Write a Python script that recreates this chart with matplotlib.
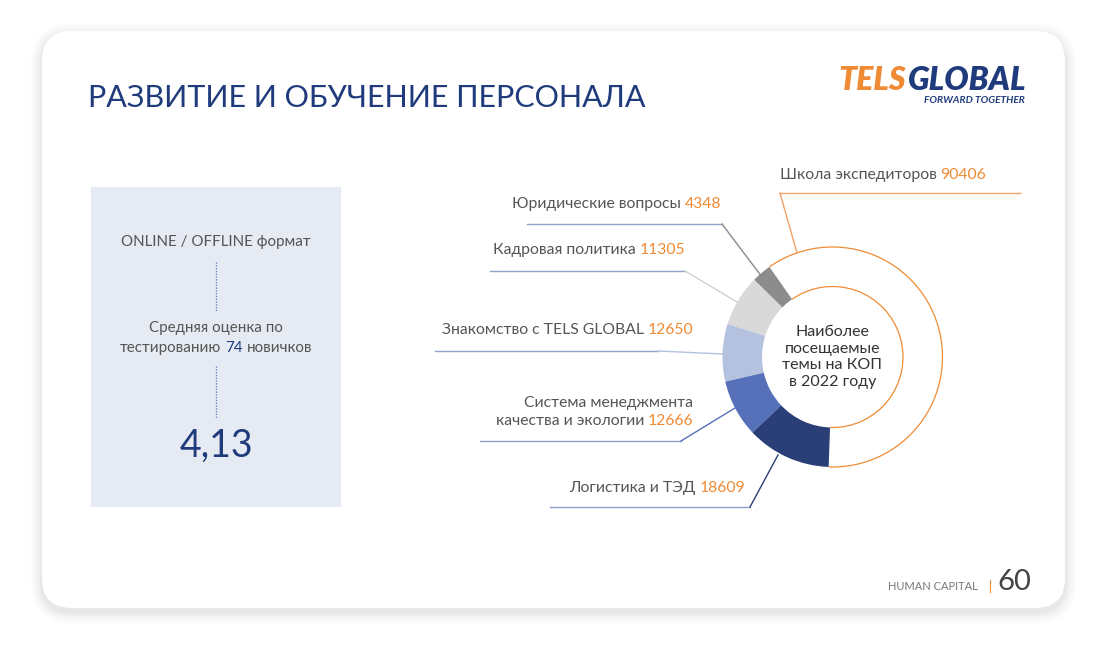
import matplotlib
matplotlib.use("Agg")
import matplotlib.pyplot as plt
from matplotlib.patches import FancyBboxPatch, Rectangle, Arc
from matplotlib.offsetbox import TextArea, HPacker, VPacker, AnnotationBbox

# Data
topics = ["Школа экспедиторов", "Юридические вопросы", "Кадровая политика",
          "Знакомство с TELS GLOBAL", "Система менеджмента\nкачества и экологии",
          "Логистика и ТЭД"]
visits = [90406, 4348, 11305, 12650, 12666, 18609]
wedge_colors = ["#ffffff", "#8c8c8c", "#d9d9d9", "#b4c2df", "#5671b9", "#2a3f78"]

test_score = "4,13"
newcomers = 74

ORANGE = "#ef8b35"
NAVY = "#1f3b7c"
GREY = "#555555"
FONT = "Lato"
H = 657

plt.rcParams['font.family'] = [FONT, 'DejaVu Sans']

fig = plt.figure(figsize=(11.03, 6.57), dpi=100)
fig.patch.set_facecolor("#ffffff")
ax = fig.add_axes([0, 0, 1, 1])


def Y(y):
    return H - y


# card with soft shadow
for i, a in enumerate([0.008, 0.010, 0.012, 0.015, 0.018, 0.022]):
    pad = 12 - 2 * i
    ax.add_patch(FancyBboxPatch((42, Y(608) - 4), 1023, 577, boxstyle=f"round,pad={pad},rounding_size={30 + pad}",
                                fc="#000000", ec="none", alpha=a, zorder=0))
ax.add_patch(FancyBboxPatch((42, Y(608)), 1023, 577, boxstyle="round,pad=0,rounding_size=30",
                            fc="#ffffff", ec="none", zorder=1))

# title
ax.text(88, Y(98), "РАЗВИТИЕ И ОБУЧЕНИЕ ПЕРСОНАЛА", fontsize=22, color=NAVY,
        va="center", ha="left", zorder=3)

# logo
logo = HPacker(children=[TextArea("TELS", textprops=dict(fontsize=23, color=ORANGE, fontweight="heavy", style="italic")),
                         TextArea("GLOBAL", textprops=dict(fontsize=23, color=NAVY, fontweight="heavy", style="italic"))],
               sep=2, align="baseline", pad=0)
ax.add_artist(AnnotationBbox(logo, (1027, Y(80)), box_alignment=(1, 0.5), frameon=False, pad=0, zorder=3))
ax.text(1025, Y(100.5), "FORWARD TOGETHER", fontsize=7.3, color=NAVY, fontweight="bold", style="italic",
        va="center", ha="right", zorder=3)

# left panel
ax.add_patch(Rectangle((91, Y(507)), 250, 320, fc="#e6eaf2", ec="none", zorder=2))
ax.text(216, Y(242), "ONLINE / OFFLINE формат", fontsize=10.9, color=GREY, ha="center", va="center", zorder=3)
ax.plot([216, 216], [Y(262), Y(312)], color="#6f86c4", lw=1, ls=(0, (1, 1)), zorder=3)
ax.text(216, Y(328), "Средняя оценка по", fontsize=10.9, color=GREY, ha="center", va="center", zorder=3)
line2 = HPacker(children=[TextArea("тестированию", textprops=dict(fontsize=10.9, color=GREY)),
                          TextArea(str(newcomers), textprops=dict(fontsize=10.9, color=NAVY)),
                          TextArea("новичков", textprops=dict(fontsize=10.9, color=GREY))],
                sep=3, align="baseline", pad=0)
ax.add_artist(AnnotationBbox(line2, (216, Y(348)), box_alignment=(0.5, 0.5), frameon=False, pad=0, zorder=3))
ax.plot([216, 216], [Y(366), Y(418)], color="#6f86c4", lw=1, ls=(0, (1, 1)), zorder=3)
ax.text(216, Y(446), test_score, fontsize=27, color=NAVY, ha="center", va="center", zorder=3)

# donut
cx, cy, r_out, r_in = 832.5, Y(357), 110, 70.5
wedges, _ = ax.pie(visits, colors=wedge_colors, startangle=-92, counterclock=True,
                   center=(cx, cy), radius=r_out, frame=True,
                   wedgeprops=dict(width=r_out - r_in, linewidth=0, zorder=2))
school_span = 360 * visits[0] / sum(visits)
for rr in (r_out, r_in):
    ax.add_patch(Arc((cx, cy), 2 * rr, 2 * rr, theta1=-92, theta2=-92 + school_span,
                     color=ORANGE, lw=0.9, zorder=3))
ax.text(cx, cy, "Наиболее\nпосещаемые\nтемы на КОП\nв 2022 году", fontsize=11.5, color="#333333",
        ha="center", va="center", linespacing=1.25, zorder=3)

# leader lines: (horizontal part, slanted part, slanted colour)
HLINE = "#8fa0cb"
leaders = [
    ([(1020, 193), (780, 193)], [(780, 193), (797, 253)], "#f2a264"),
    ([(527, 224), (722, 224)], [(722, 224), (762, 277)], "#8a8a8a"),
    ([(490, 271), (685, 271)], [(685, 271), (737, 302)], "#d0d0d0"),
    ([(435, 351), (658, 351)], [(658, 351), (723, 354)], "#b4c2df"),
    ([(480, 441), (681, 441)], [(681, 441), (735, 408)], "#5671b9"),
    ([(550, 507), (750, 507)], [(750, 507), (778, 455)], "#2a3f78"),
]
for i, (hor, sl, col) in enumerate(leaders):
    hcol = "#f2a264" if i == 0 else HLINE
    ax.plot([p[0] for p in hor], [Y(p[1]) for p in hor], color=hcol, lw=1, zorder=3)
    ax.plot([p[0] for p in sl], [Y(p[1]) for p in sl], color=col, lw=1, zorder=3)

# labels
label_anchor = [(780, 175, 0), (721, 204, 1), (685, 250, 1), (693, 330, 1), (693, 412, 1), (745, 488, 1)]
for name, val, (lx, ly, al) in zip(topics, visits, label_anchor):
    lines = name.split("\n")
    rows = []
    for j, ln in enumerate(lines):
        kids = [TextArea(ln, textprops=dict(fontsize=11.3, color=GREY))]
        if j == len(lines) - 1:
            kids.append(TextArea(str(val), textprops=dict(fontsize=11.3, color=ORANGE)))
        rows.append(HPacker(children=kids, sep=2.5, align="baseline", pad=0))
    box = VPacker(children=rows, sep=2.5, align="right" if al else "left", pad=0)
    ax.add_artist(AnnotationBbox(box, (lx, Y(ly)), box_alignment=(al, 0.5), frameon=False, pad=0, zorder=3))

# footer
ax.text(978, Y(587), "HUMAN CAPITAL", fontsize=8, color="#777777", ha="right", va="center", zorder=3)
ax.plot([990, 990], [Y(580), Y(592)], color=ORANGE, lw=0.8, zorder=3)
ax.text(997, Y(582), "60", fontsize=21, color="#444444", ha="left", va="center", zorder=3)

ax.set_xlim(0, 1103)
ax.set_ylim(0, H)
ax.axis("off")

plt.savefig("out.png", dpi=100)
